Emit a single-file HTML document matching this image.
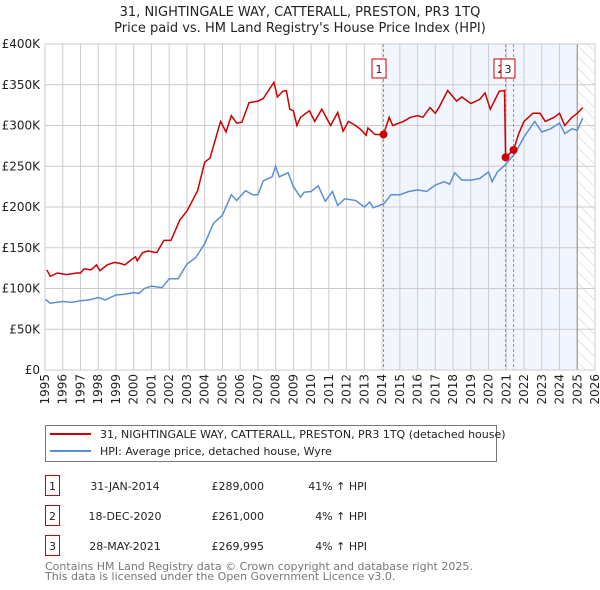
<!DOCTYPE html>
<html><head><meta charset="utf-8"><style>
body{margin:0;background:#fff;font-family:"Liberation Sans","DejaVu Sans",sans-serif;}
#wrap{position:relative;width:600px;height:590px;overflow:hidden;}
svg text{font-family:"DejaVu Sans","Liberation Sans",sans-serif;}
</style></head><body><div id="wrap">
<svg id="chart" width="600" height="590"></svg>
</div>
<script>
const hpiYears=[1995,1995.3,1996,1996.5,1997,1997.5,1998,1998.4,1999,1999.5,2000,2000.3,2000.6,2001,2001.6,2002,2002.5,2003,2003.5,2004,2004.5,2005,2005.5,2005.8,2006.3,2006.7,2007,2007.3,2007.8,2008,2008.2,2008.7,2009,2009.4,2009.6,2010,2010.4,2010.8,2011.2,2011.5,2011.9,2012.5,2013,2013.3,2013.5,2014.1,2014.5,2015,2015.5,2016,2016.5,2017,2017.5,2017.8,2018.1,2018.5,2019,2019.5,2020,2020.2,2020.5,2020.96,2021.5,2022,2022.6,2023,2023.5,2024,2024.3,2024.7,2025,2025.3];
const hpiValues=[87,82,84,83,85,86,89,86,92,93,95,94,100,103,101,112,112,130,138,155,180,190,215,208,220,215,215,232,237,250,237,242,225,212,218,219,226,207,219,202,210,208,200,206,199,204,215,215,219,221,219,227,231,228,242,233,233,235,243,231,243,252,266,286,305,292,296,303,290,296,294,309];
const priceYears=[1995.1,1995.3,1995.7,1996.2,1996.8,1997,1997.2,1997.6,1997.9,1998.1,1998.5,1998.9,1999.2,1999.5,1999.9,2000.1,2000.2,2000.5,2000.8,2001.3,2001.7,2002.1,2002.6,2003,2003.6,2004,2004.3,2004.9,2005.2,2005.5,2005.8,2006.1,2006.5,2007,2007.3,2007.6,2007.9,2008.1,2008.4,2008.6,2008.8,2009,2009.2,2009.4,2009.9,2010.2,2010.6,2011.1,2011.5,2011.8,2012.1,2012.5,2012.8,2013.1,2013.2,2013.6,2014.08,2014.4,2014.6,2015.2,2015.6,2016,2016.3,2016.7,2017,2017.2,2017.7,2018.2,2018.5,2019,2019.5,2019.8,2020.1,2020.6,2020.9,2020.96,2021.41,2021.7,2022,2022.5,2022.9,2023.2,2023.7,2024,2024.3,2024.7,2025,2025.3];
const priceValues=[123,115,119,117,119,119,124,123,129,122,129,132,131,129,136,139,134,144,146,144,159,159,184,195,220,255,260,305,292,312,303,304,328,330,333,343,353,335,342,343,320,318,300,310,318,305,320,300,316,293,305,300,295,288,297,289,289,310,300,305,310,312,310,322,315,322,343,330,335,327,332,340,320,342,343,261,270,290,305,315,315,305,310,315,300,310,315,322];
const saleYears=[2014.08,2020.96,2021.41];
const saleValues=[289,261,270];
const saleLabels=["1","2","3"];
const yTicks=[0,50,100,150,200,250,300,350,400];
const yTickLabels=["£0","£50K","£100K","£150K","£200K","£250K","£300K","£350K","£400K"];
const xTicks=[1995,1996,1997,1998,1999,2000,2001,2002,2003,2004,2005,2006,2007,2008,2009,2010,2011,2012,2013,2014,2015,2016,2017,2018,2019,2020,2021,2022,2023,2024,2025,2026];

const L=45,R=595,T=44,B=370;
const xs=y=>L+(y-1995)/31*(R-L);
const ys=v=>B-v/400*(B-T);
const svg=document.getElementById('chart');
const NS='http://www.w3.org/2000/svg';
function mk(tag,attrs,parent){const e=document.createElementNS(NS,tag);for(const k in attrs)e.setAttribute(k,attrs[k]);(parent||svg).appendChild(e);return e;}

let t=mk('text',{x:300,y:16,'text-anchor':'middle','font-size':13,fill:'#222'});t.textContent='31, NIGHTINGALE WAY, CATTERALL, PRESTON, PR3 1TQ';

t=mk('text',{x:300,y:32,'text-anchor':'middle','font-size':13,fill:'#222'});t.textContent="Price paid vs. HM Land Registry's House Price Index (HPI)";


const defs=mk('defs',{});
const pat=mk('pattern',{id:'hatch',width:8,height:8,patternUnits:'userSpaceOnUse',patternTransform:'rotate(-45)'},defs);
mk('line',{x1:0,y1:0,x2:0,y2:8,stroke:'#ccc','stroke-width':1},pat);

let sh=mk('rect',{x:xs(saleYears[0]),y:T,width:xs(2025.0)-xs(saleYears[0]),height:B-T,fill:'#eef2fc',opacity:0.8});

let hz=mk('rect',{x:xs(2025.0),y:T,width:R-xs(2025.0),height:B-T,fill:'url(#hatch)'});


xTicks.forEach((yr,i)=>{
  const g=mk('line',{x1:xs(yr),x2:xs(yr),y1:T,y2:B,stroke:'#ccc','stroke-width':1});
  
  const x=xs(yr);
  const lab=mk('text',{x:0,y:0,'font-size':12,fill:'#222','text-anchor':'end',transform:`translate(${x+4},${B+4}) rotate(-90)`});
  lab.textContent=String(yr);
  
});
yTicks.forEach((v,i)=>{
  const g=mk('line',{x1:L,x2:R,y1:ys(v),y2:ys(v),stroke:'#ccc','stroke-width':1});
  
  const lab=mk('text',{x:L-5,y:ys(v)+4,'font-size':12,fill:'#222','text-anchor':'end'});
  lab.textContent=yTickLabels[i];
  
});
let vl=mk('line',{x1:xs(2025.0),x2:xs(2025.0),y1:T,y2:B,stroke:'#999','stroke-width':1.2});


saleYears.forEach(yr=>{
  const l=mk('line',{x1:xs(yr),x2:xs(yr),y1:T,y2:B,stroke:'#e87070','stroke-width':1,'stroke-dasharray':'3,2'});
  
});

function pathD(xsArr,vals){return xsArr.map((y,i)=>(i?'L':'M')+xs(y).toFixed(1)+','+ys(vals[i]).toFixed(1)).join('');}
let hp=mk('path',{d:pathD(hpiYears,hpiValues),fill:'none',stroke:'#5b8fd4','stroke-width':1.5});

let pp=mk('path',{d:pathD(priceYears,priceValues),fill:'none',stroke:'#cc0000','stroke-width':1.5});


saleYears.forEach((yr,i)=>{
  const c=mk('circle',{cx:xs(yr),cy:ys(saleValues[i]),r:4,fill:'#cc0000'});
  
});
const boxOff=[-4.5,-4.6,-5.6];
saleYears.forEach((yr,i)=>{
  const bx=xs(yr)-7+boxOff[i];
  const r=mk('rect',{x:bx,y:59,width:14,height:19,fill:'#fff',stroke:'#cc0000','stroke-width':1});
  
  const tt=mk('text',{x:bx+7,y:73,'font-size':11,'text-anchor':'middle',fill:'#222'});
  tt.textContent=saleLabels[i];
  
});
let fr=mk('rect',{x:L,y:T,width:R-L,height:B-T,fill:'none',stroke:'#ccc','stroke-width':1});


const lg=mk('g',{});

mk('rect',{x:45.5,y:425.5,width:451,height:36,fill:'#fff',stroke:'#777','stroke-width':1},lg);
mk('line',{x1:50,x2:91,y1:434,y2:434,stroke:'#cc0000','stroke-width':2},lg);
mk('line',{x1:50,x2:91,y1:451,y2:451,stroke:'#5b8fd4','stroke-width':2},lg);
let le=mk('text',{x:100,y:438,'font-size':11,fill:'#222'},lg);le.textContent='31, NIGHTINGALE WAY, CATTERALL, PRESTON, PR3 1TQ (detached house)';

le=mk('text',{x:100,y:455,'font-size':11,fill:'#222'},lg);le.textContent='HPI: Average price, detached house, Wyre';


const dates=['31-JAN-2014','18-DEC-2020','28-MAY-2021'];
const prices=['£289,000','£261,000','£269,995'];
const pct=['41% ↑ HPI','4% ↑ HPI','4% ↑ HPI'];
dates.forEach((d,i)=>{
  const y=483+i*30;
  const r=mk('rect',{x:45.5,y:y-7.5,width:14,height:20,fill:'#fff',stroke:'#cc0000','stroke-width':1});
  
  let tx=mk('text',{x:52.5,y:y+7,'font-size':11,'text-anchor':'middle',fill:'#222'});tx.textContent=String(i+1);
  
  tx=mk('text',{x:125,y:y+7,'font-size':11,'text-anchor':'middle',fill:'#222'});tx.textContent=d;
  
  tx=mk('text',{x:264,y:y+7,'font-size':11,'text-anchor':'end',fill:'#222'});tx.textContent=prices[i];
  
  tx=mk('text',{x:367,y:y+7,'font-size':11,'text-anchor':'end',fill:'#222'});tx.textContent=pct[i];
  
});
let ft=mk('text',{x:45,y:570,'font-size':11,fill:'#777'});ft.textContent='Contains HM Land Registry data © Crown copyright and database right 2025.';

ft=mk('text',{x:45,y:580,'font-size':11,fill:'#777'});ft.textContent='This data is licensed under the Open Government Licence v3.0.';

</script></body></html>
